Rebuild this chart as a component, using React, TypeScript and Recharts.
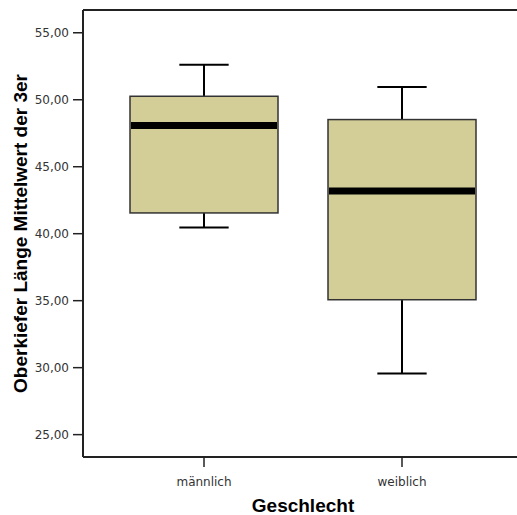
import { ComposedChart, Bar, XAxis, YAxis, ReferenceLine } from 'recharts'

// Boxplot statistics per group
const groups = ['männlich', 'weiblich']
const lowerWhisker = [40.47, 29.56]
const q1 = [41.55, 35.07]
const median = [48.07, 43.19]
const q3 = [50.26, 48.52]
const upperWhisker = [52.61, 50.96]

const yTicks = [25, 30, 35, 40, 45, 50, 55]
const yDomain = [23.33, 56.7]

const data = groups.map((g, i) => ({
  name: g,
  min: lowerWhisker[i],
  q1: q1[i],
  median: median[i],
  q3: q3[i],
  max: upperWhisker[i]
}))

const BOX_FILL = '#d3ce98'
const TICK_FONT = '"DejaVu Sans", Verdana, sans-serif'
const TITLE_FONT = '"Liberation Sans", Arial, sans-serif'

// The bar spans [min, max]; the rest of the box is placed on the same linear scale
function BoxShape(props: any) {
  const { x, y, width, height, payload } = props
  if (!payload) return null
  const top = Math.min(y, y + height)
  const bottom = Math.max(y, y + height)
  const span = payload.max - payload.min
  const py = (v: number) => top + ((payload.max - v) / span) * (bottom - top)
  const cx = x + width / 2
  const cap = width / 3
  return (
    <g>
      <line x1={cx} x2={cx} y1={py(payload.max)} y2={py(payload.q3)} stroke="#000" strokeWidth={2} />
      <line x1={cx} x2={cx} y1={py(payload.q1)} y2={py(payload.min)} stroke="#000" strokeWidth={2} />
      <line x1={cx - cap / 2} x2={cx + cap / 2} y1={py(payload.max)} y2={py(payload.max)} stroke="#000" strokeWidth={2} />
      <line x1={cx - cap / 2} x2={cx + cap / 2} y1={py(payload.min)} y2={py(payload.min)} stroke="#000" strokeWidth={2} />
      <rect
        x={x}
        y={py(payload.q3)}
        width={width}
        height={py(payload.q1) - py(payload.q3)}
        fill={BOX_FILL}
        stroke="#333"
        strokeWidth={1.5}
      />
      <line x1={x + 1} x2={x + width - 1} y1={py(payload.median)} y2={py(payload.median)} stroke="#000" strokeWidth={7} />
    </g>
  )
}

function YTitle(props: any) {
  const { y, height } = props.viewBox
  return (
    <text
      transform={`translate(27, ${y + height / 2}) rotate(-90)`}
      textAnchor="middle"
      fontFamily={TITLE_FONT}
      fontWeight="bold"
      fontSize={19}
      fill="#000"
    >
      Oberkiefer Länge Mittelwert der 3er
    </text>
  )
}

function XTitle(props: any) {
  const { x, width } = props.viewBox
  return (
    <text
      x={x + width / 2}
      y={512}
      textAnchor="middle"
      fontFamily={TITLE_FONT}
      fontWeight="bold"
      fontSize={19}
      fill="#000"
    >
      Geschlecht
    </text>
  )
}

export default function App() {
  return (
    <div style={{ position: 'fixed', left: 0, top: 0, width: 517, height: 515, overflow: 'hidden', background: '#fff' }}>
      <ComposedChart
        width={523}
        height={515}
        data={data}
        margin={{ top: 10, right: 0, bottom: 0, left: 0 }}
      >
        <XAxis
          dataKey="name"
          type="category"
          padding={{ left: 22, right: 22 }}
          height={58}
          tickSize={10}
          tickMargin={10}
          axisLine={{ stroke: '#222', strokeWidth: 2 }}
          tickLine={{ stroke: '#222', strokeWidth: 1.5 }}
          tick={{ fontFamily: TICK_FONT, fontSize: 12, fill: '#333' }}
          label={<XTitle />}
        />
        <YAxis
          type="number"
          domain={yDomain}
          ticks={yTicks}
          allowDataOverflow
          width={83}
          tickSize={10}
          tickMargin={4}
          axisLine={{ stroke: '#222', strokeWidth: 2 }}
          tickLine={{ stroke: '#222', strokeWidth: 1.5 }}
          tick={{ fontFamily: TICK_FONT, fontSize: 12, fill: '#333' }}
          tickFormatter={(v: number) => v.toFixed(2).replace('.', ',')}
          label={<YTitle />}
        />
        {/* top edge of the frame */}
        <ReferenceLine y={yDomain[1]} stroke="#222" strokeWidth={2} ifOverflow="visible" />
        <Bar
          dataKey={(d: any) => [d.min, d.max]}
          barSize={148}
          shape={<BoxShape />}
          isAnimationActive={false}
        />
      </ComposedChart>
    </div>
  )
}
